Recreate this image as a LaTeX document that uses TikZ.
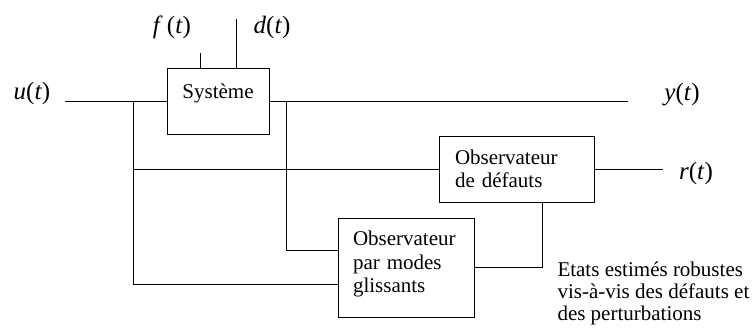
\documentclass[tikz,border=0pt]{standalone}
\usepackage{fontspec}
\setmainfont{Liberation Serif}
\begin{document}
\begin{tikzpicture}[x=1pt,y=-1pt,line width=1pt,
  box/.style={draw,line width=1pt,inner sep=0pt,font=\fontsize{21}{23.5}\selectfont},
  mlbl/.style={font=\fontsize{25}{29}\selectfont,inner sep=0pt},
  txt/.style={font=\fontsize{21}{21.8}\selectfont,align=left,inner sep=0pt}]
\useasboundingbox (0,0) rectangle (755,327);

% blocks
\node[box,minimum width=102pt,minimum height=66pt,align=center] (sys) at (218,101) {Système\\[-3pt]\mbox{}};
\node[box,minimum width=155pt,minimum height=66pt,text width=123pt,inner xsep=16pt,align=left] (obs1) at (516.5,169) {Observateur\\de défauts};
\node[box,minimum width=136pt,minimum height=99pt,text width=106pt,inner xsep=15pt,align=left] (obs2) at (406,267.5) {Observateur\\par modes\\glissants\\[-12.5pt]\mbox{}};

% labels
\node[mlbl] (u) at (32,93) {\textit{u}(\textit{t})};
\node[mlbl] (f) at (172,27) {\textit{f}\,(\textit{t})};
\node[mlbl] (d) at (272,27) {\textit{d}(\textit{t})};
\node[mlbl] (y) at (682,95) {\textit{y}(\textit{t})};
\node[mlbl] (r) at (696,173) {\textit{r}(\textit{t})};
\node[txt,anchor=west] (etat) at (557,293.5) {Etats estimés robustes\\vis-à-vis des défauts et\\des perturbations};

% coordinates
\coordinate (uin) at (65,101);
\coordinate (yout) at (628,101);
\coordinate (ftop) at (200.7,53);
\coordinate (dtop) at (236,19);
\coordinate (b1) at (133,101);
\coordinate (b1low) at (133,284);
\coordinate (b2) at (286,101);
\coordinate (b2low) at (286,250.5);
\coordinate (k) at (542.7,267.5);
\coordinate (rout) at (663,169);

% wires
\draw (uin) -- (sys.west);
\draw (sys.east) -- (yout);
\draw (ftop) -- (ftop |- sys.north);
\draw (dtop) -- (dtop |- sys.north);
\draw (b1) -- (b1low) -- (b1low -| obs2.west);
\draw (b1 |- obs1.west) -- (obs1.west);
\draw (b2) -- (b2low) -- (b2low -| obs2.west);
\draw (obs2.east) -- (k) -- (k |- obs1.south);
\draw (obs1.east) -- (rout);
\end{tikzpicture}
\end{document}
